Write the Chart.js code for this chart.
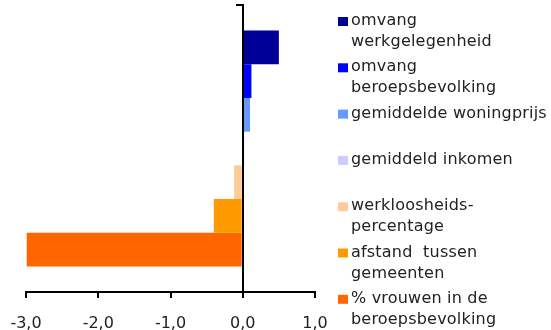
<!DOCTYPE html>
<html>
<head>
<meta charset="utf-8">
<script src="https://cdn.jsdelivr.net/npm/chart.js@4/dist/chart.umd.min.js"></script>
<style>
html, body { margin: 0; padding: 0; background: #fff; }
#wrap { width: 551px; height: 330px; position: relative; }
</style>
</head>
<body>
<div id="wrap"><canvas id="effect-data"></canvas></div>
<script>
// one group, seven factors (legend labels split in lines like the original)
var categories = ["effect"];
var factorNames = [
    ["omvang", "werkgelegenheid"],
    ["omvang", "beroepsbevolking"],
    ["gemiddelde woningprijs"],
    ["gemiddeld inkomen"],
    ["werkloosheids-", "percentage"],
    ["afstand  tussen", "gemeenten"],
    ["% vrouwen in de", "beroepsbevolking"]
];
var factorValues = [0.50, 0.12, 0.10, 0.02, -0.12, -0.40, -2.99];
var factorColors = ["#000099", "#0000ff", "#6699ff", "#ccccff", "#ffcc99", "#ff9900", "#ff6600"];
var xTicks = [-3, -2, -1, 0, 1];

var fontFam = "'DejaVu Sans', Verdana, sans-serif";

function fmt(v) {
    return v.toFixed(1).replace(".", ",");
}

// legend drawn at the right, one slot per factor
var sideLegend = {
    id: "sideLegend",
    afterDraw: function (chart) {
        var ctx = chart.ctx;
        var boxX = 338, textX = 351, top = 21, slot = 46.3, lineH = 21;
        ctx.save();
        ctx.font = "16px " + fontFam;
        ctx.letterSpacing = "0.2px";
        ctx.textBaseline = "middle";
        ctx.textAlign = "left";
        for (var i = 0; i < factorNames.length; i++) {
            var y = top + i * slot;
            ctx.fillStyle = factorColors[i];
            ctx.fillRect(boxX, y - 4, 10, 9);
            ctx.fillStyle = "#222";
            for (var j = 0; j < factorNames[i].length; j++) {
                ctx.fillText(factorNames[i][j], textX, y + j * lineH);
            }
        }
        ctx.restore();
    }
};

var datasets = [];
for (var i = 0; i < factorValues.length; i++) {
    datasets.push({
        label: factorNames[i].join(" "),
        data: [factorValues[i]],
        backgroundColor: factorColors[i],
        borderWidth: 0,
        barPercentage: 1,
        categoryPercentage: 0.822
    });
}

var ctx = document.getElementById("effect-data");
var chart = new Chart(ctx, {
    type: "bar",
    data: {
        labels: categories,
        datasets: datasets
    },
    plugins: [sideLegend],
    options: {
        indexAxis: "y",
        responsive: true,
        maintainAspectRatio: false,
        animation: false,
        layout: { padding: { left: 26, right: 236, top: 5, bottom: -20 } },
        plugins: {
            legend: { display: false },
            tooltip: { enabled: false }
        },
        scales: {
            x: {
                type: "linear",
                min: xTicks[0],
                max: xTicks[xTicks.length - 1],
                afterFit: function (scale) {
                    scale.paddingLeft = 0;
                    scale.paddingRight = 0;
                },
                ticks: {
                    stepSize: 1,
                    color: "#222",
                    padding: 18,
                    font: { family: fontFam, size: 16, lineHeight: 1 },
                    callback: function (v) { return fmt(v); }
                },
                grid: { drawOnChartArea: false, drawTicks: true, tickLength: 6, color: "#000", lineWidth: 2 },
                border: { display: true, color: "#000", width: 2, z: 1 }
            },
            y: {
                type: "category",
                position: { x: 0 },
                ticks: { display: false },
                grid: { drawOnChartArea: false, drawTicks: true, tickLength: 6, color: "#000", lineWidth: 2 },
                border: { display: true, color: "#000", width: 2, z: 1 }
            }
        }
    }
});
</script>
</body>
</html>
